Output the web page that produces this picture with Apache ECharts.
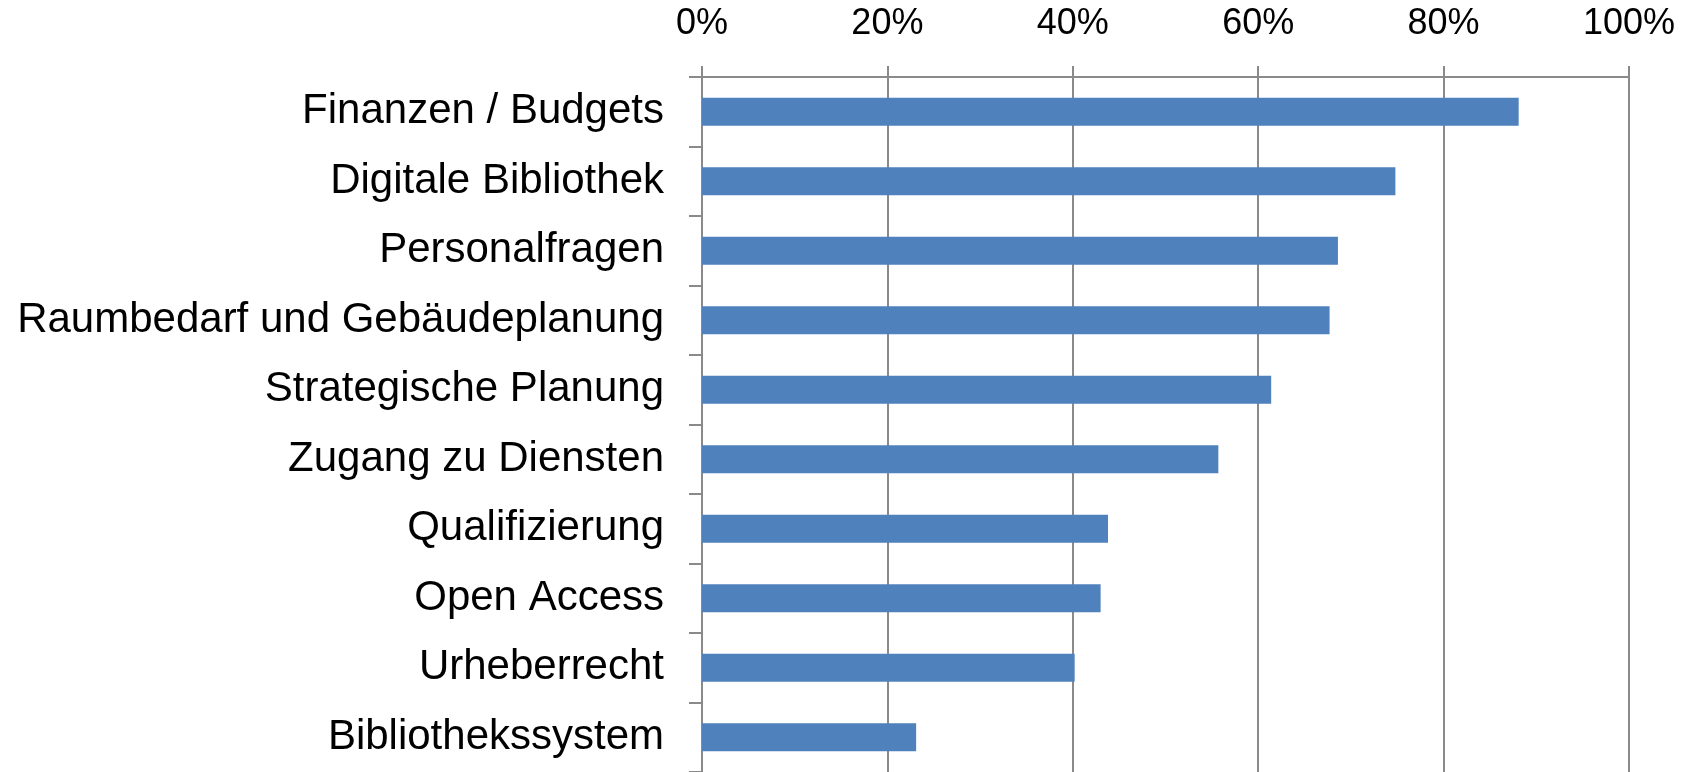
<!DOCTYPE html>
<html>
<head>
<meta charset="utf-8">
<script src="https://cdn.jsdelivr.net/npm/echarts@6/dist/echarts.min.js"></script>
<style>
  html, body { margin: 0; padding: 0; background: #fff; }
  #chart { width: 1694px; height: 772px; }
</style>
</head>
<body>
<div id="chart"></div>
<script>
// Chart data
var categories = [
  'Finanzen / Budgets',
  'Digitale Bibliothek',
  'Personalfragen',
  'Raumbedarf und Gebäudeplanung',
  'Strategische Planung',
  'Zugang zu Diensten',
  'Qualifizierung',
  'Open Access',
  'Urheberrecht',
  'Bibliothekssystem'
];
var values = [88.1, 74.8, 68.6, 67.7, 61.4, 55.7, 43.8, 43.0, 40.2, 23.1];

var xTicks = { min: 0, max: 100, interval: 20 };

document.addEventListener('DOMContentLoaded', function() {
  var dom = document.getElementById('chart');
  var chart = echarts.init(dom, null, {renderer: 'canvas'});

  var gray = '#8a8a8a';
  var font = 'Liberation Sans, Arial, sans-serif';

  var option = {
    animation: false,
    grid: { left: 702, top: 77, width: 927, height: 699 },
    xAxis: {
      type: 'value',
      position: 'top',
      min: xTicks.min,
      max: xTicks.max,
      interval: xTicks.interval,
      axisLine: { show: true, lineStyle: { color: gray, width: 2 } },
      axisTick: { show: true, length: 11, lineStyle: { color: gray, width: 2 } },
      splitLine: { show: true, lineStyle: { color: gray, width: 2 } },
      axisLabel: {
        formatter: '{value}%',
        color: '#000',
        fontFamily: font,
        fontSize: 36,
        margin: 35
      }
    },
    yAxis: {
      type: 'category',
      inverse: true,
      data: categories,
      axisLine: { show: true, lineStyle: { color: gray, width: 2 } },
      axisTick: { show: true, length: 13, lineStyle: { color: gray, width: 2 } },
      axisLabel: {
        color: '#000',
        fontFamily: font,
        fontSize: 42,
        margin: 38,
        padding: [5, 0, 0, 0]
      }
    },
    series: [{
      type: 'bar',
      data: values,
      barWidth: '40%',
      itemStyle: { color: '#4f81bd' }
    }]
  };

  chart.setOption(option);
});
</script>
</body>
</html>
